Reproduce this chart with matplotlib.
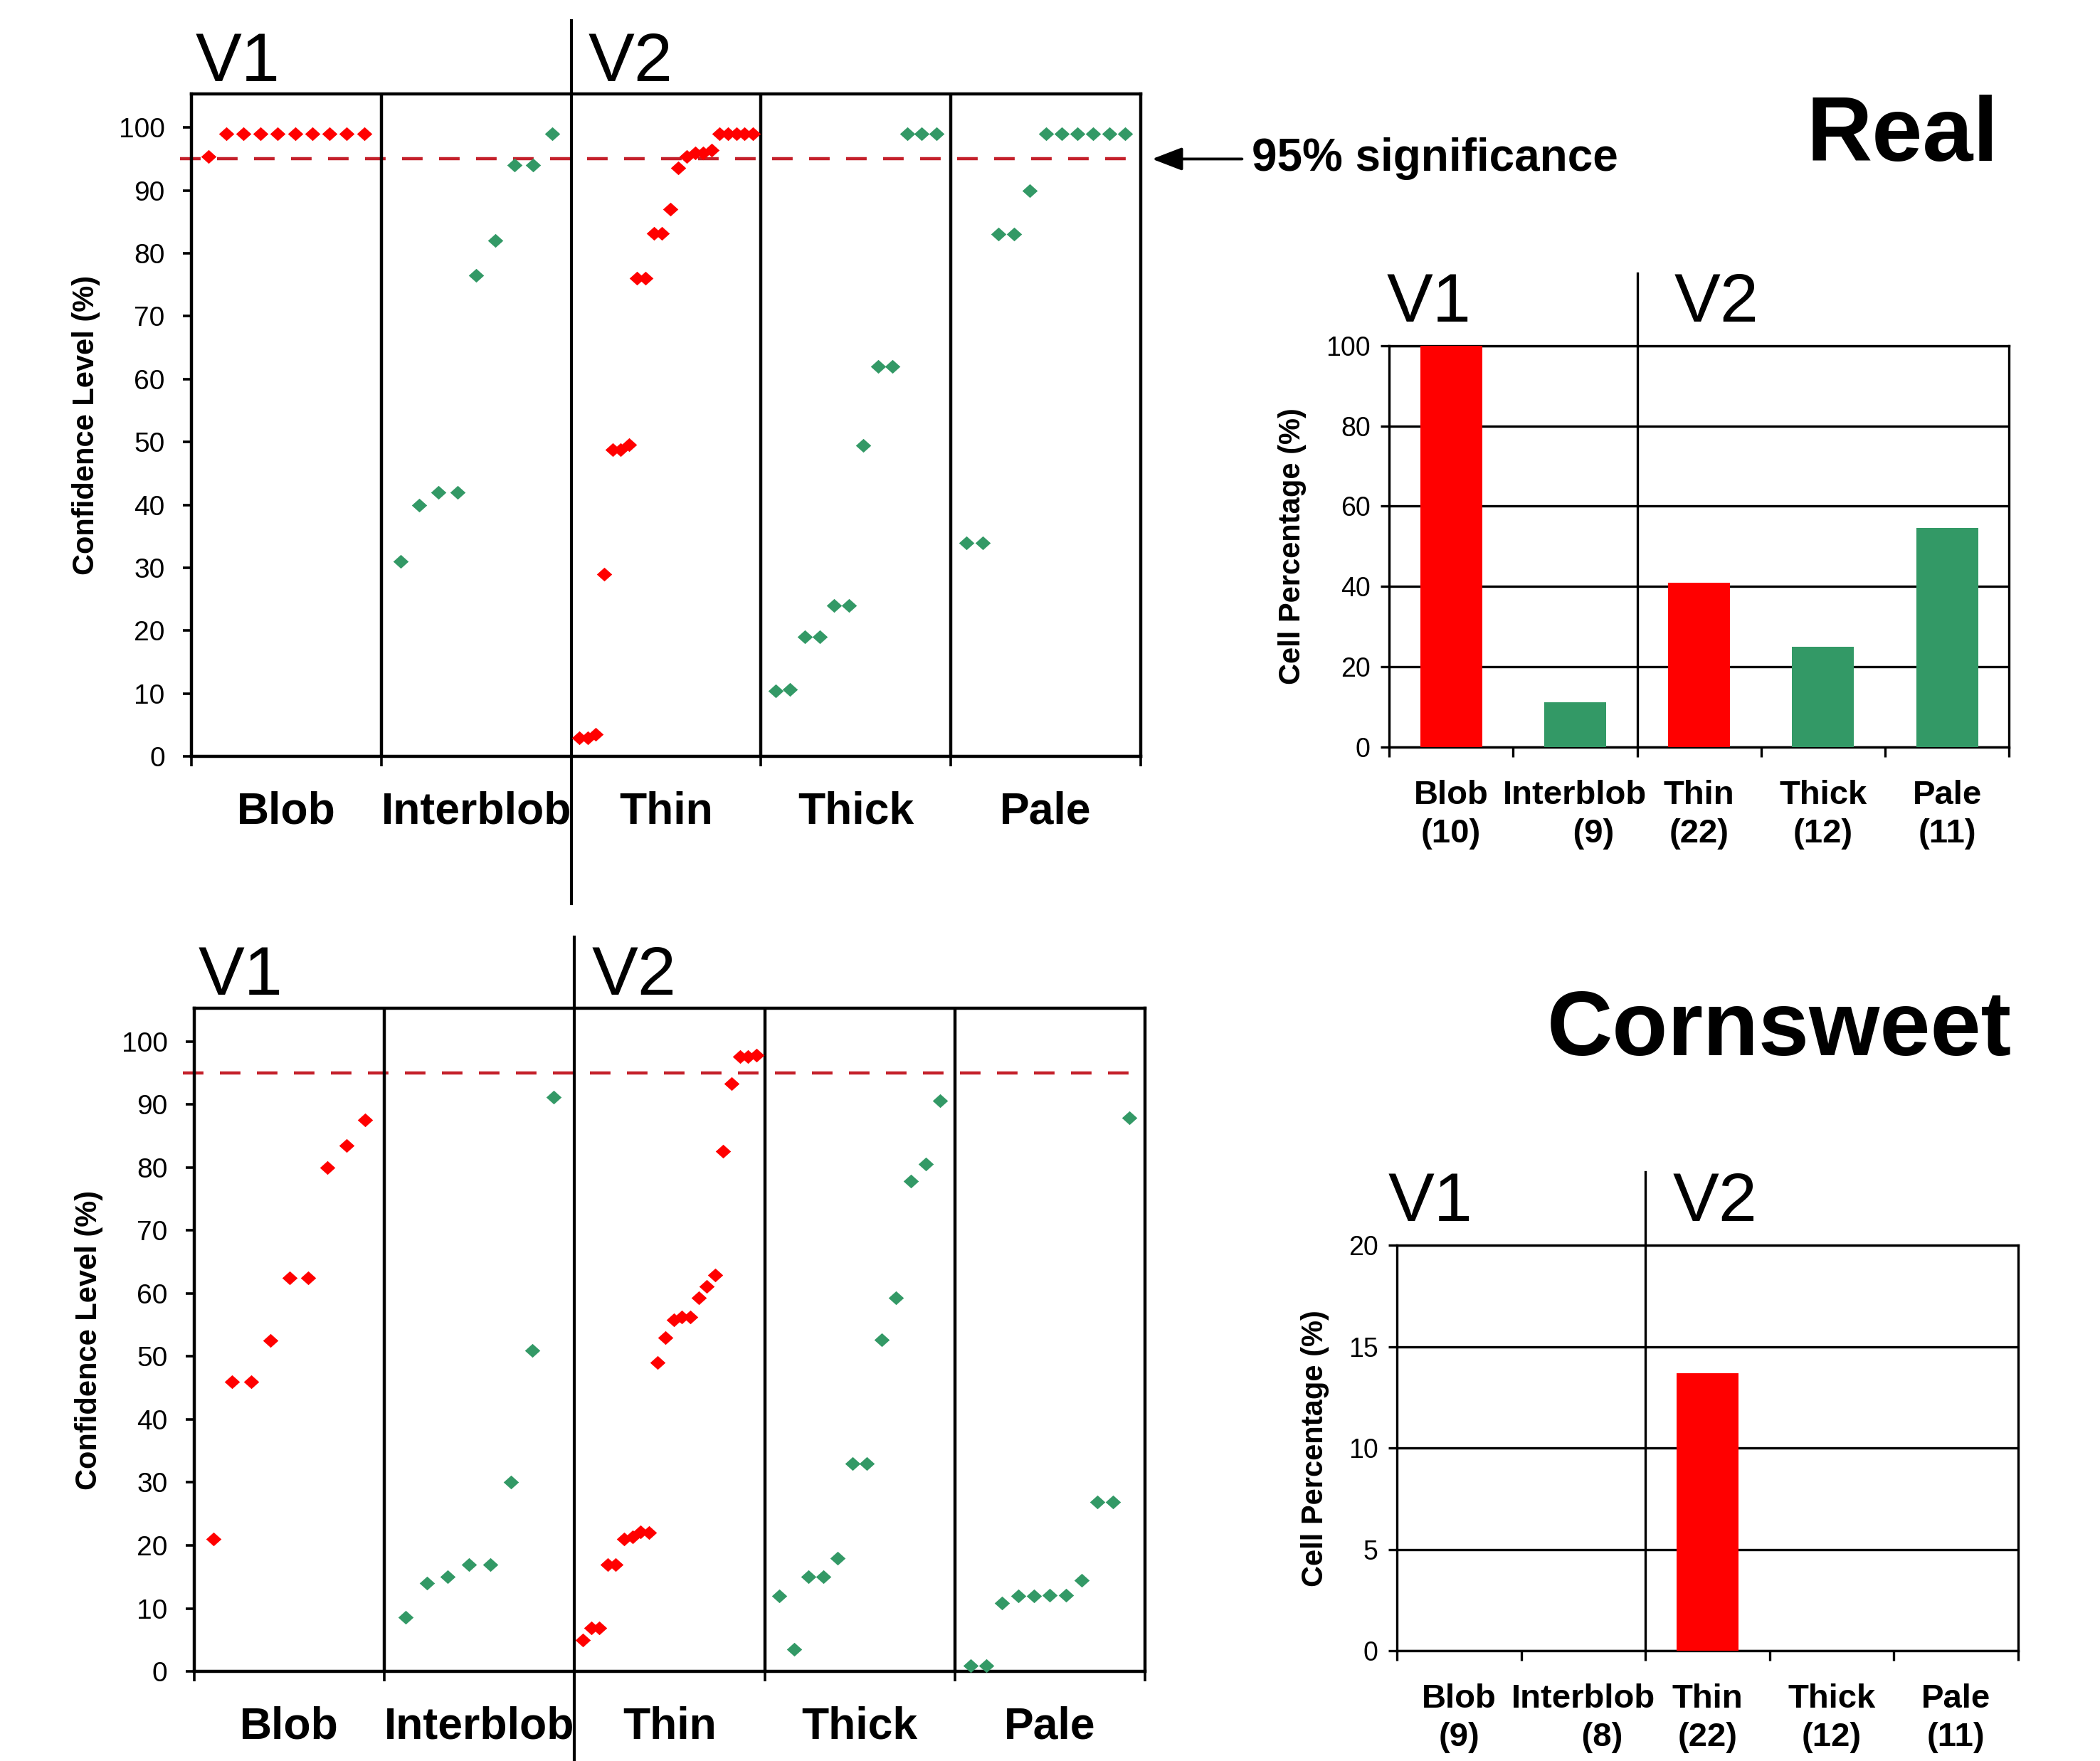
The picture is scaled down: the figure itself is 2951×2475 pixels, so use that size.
import matplotlib
matplotlib.use('Agg')
from matplotlib import pyplot as plt
from matplotlib import transforms

plt.rcParams['font.family'] = ['Liberation Sans', 'DejaVu Sans']

categories = ['Blob', 'Interblob', 'Thin', 'Thick', 'Pale']
cat_colors = ['#ff0000', '#339966', '#ff0000', '#339966', '#339966']
threshold = 95  # 95% significance

# confidence level of each cell, Real stimulus
real_blob = [95.4, 99, 99, 99, 99, 99, 99, 99, 99, 99]
real_interblob = [31, 40, 42, 42, 76.5, 82, 94, 94, 99]
real_thin = [2.9, 2.9, 3.5, 29, 48.8, 48.8, 49.6, 76, 76, 83.2, 83.2, 87, 93.6,
             95.4, 95.9, 96, 96.4, 99, 99, 99, 99, 99]
real_thick = [10.4, 10.6, 19, 19, 24, 24, 49.4, 62, 62, 99, 99, 99]
real_pale = [34, 34, 83, 83, 90, 99, 99, 99, 99, 99, 99]

# confidence level of each cell, Cornsweet stimulus
corn_blob = [21, 46, 46, 52.5, 62.5, 62.5, 80, 83.5, 87.5]
corn_interblob = [8.6, 14, 15, 17, 17, 30, 51, 91.2]
corn_thin = [5, 6.9, 6.9, 17, 17, 21, 21.3, 22.2, 22, 49, 53, 55.8, 56.3, 56.3,
             59.3, 61.1, 62.9, 82.6, 93.3, 97.6, 97.6, 97.8]
corn_thick = [12, 3.5, 15, 15, 18, 33, 33, 52.7, 59.3, 77.8, 80.6, 90.6]
corn_pale = [0.9, 0.9, 10.9, 12, 12, 12.1, 12.1, 14.5, 26.9, 26.9, 87.9]

# percentage of significant cells
real_pct = [100, 11.1, 40.9, 25, 54.6]
real_n = ['(10)', '(9)', '(22)', '(12)', '(11)']
corn_pct = [0, 0, 13.7, 0, 0]
corn_n = ['(9)', '(8)', '(22)', '(12)', '(11)']

diamond = [(-1, 0), (0, 0.9), (1, 0), (0, -0.9), (-1, 0)]
narrow = ['Liberation Sans Narrow', 'Liberation Sans']

fig = plt.figure(figsize=(29.51, 24.75), dpi=100)


def scatter_panel(rect, groups, v2x, div_lo, div_hi):
    ax = fig.add_axes(rect)
    for i, (vals, col) in enumerate(zip(groups, cat_colors)):
        n = len(vals)
        xs = [i + (j + 1) / (n + 1) for j in range(n)]
        ax.plot(xs, vals, ls='none', marker=diamond, ms=15.5, color=col,
                mec='none', clip_on=False, zorder=3)
    ax.axhline(threshold, xmin=-0.012, color='#c4202a', lw=3.2, dashes=(6.5, 5.2),
               clip_on=False, zorder=2)
    ax.set_xlim(0, 5)
    ax.set_ylim(0, 105.3)
    for b in [1, 3, 4]:
        ax.axvline(b, color='k', lw=3.2)
    ax.axvline(2, ymin=div_lo, ymax=div_hi, color='k', lw=3.0, clip_on=False)
    for s in ax.spines.values():
        s.set_linewidth(3.2)
    ax.set_xticks(range(6))
    ax.set_xticklabels([])
    ax.set_xticks([i + 0.5 for i in range(5)], minor=True)
    ax.set_xticklabels(categories, minor=True, fontsize=45, fontweight='bold')
    ax.tick_params(axis='x', which='major', length=10, width=2.6, direction='out')
    ax.tick_params(axis='x', which='minor', length=0, pad=35)
    ax.set_yticks(range(0, 101, 10))
    ax.tick_params(axis='y', length=9, width=2.6, pad=18, labelsize=28)
    ax.set_ylabel('Confidence Level (%)', fontsize=30, fontweight='bold')
    ax.yaxis.set_label_coords(-0.096, 0.5)
    tr = transforms.blended_transform_factory(ax.transData, ax.transAxes)
    ax.text(0.02, 1.02, 'V1', transform=tr, fontsize=70, family=narrow, va='baseline')
    ax.text(v2x, 1.02, 'V2', transform=tr, fontsize=70, family=narrow, va='baseline')
    return ax


def bar_panel(rect, pcts, ns, ymax, ystep, ylab_x, v1x, v2x):
    ax = fig.add_axes(rect)
    centers = [i + 0.5 for i in range(5)]
    ax.bar(centers, pcts, width=0.5, color=cat_colors, zorder=3)
    ax.set_xlim(0, 5)
    ax.set_ylim(0, ymax)
    ax.set_yticks(range(0, ymax + 1, ystep))
    ax.set_axisbelow(True)
    ax.yaxis.grid(True, color='k', lw=2.4)
    ax.axvline(2, ymin=0, ymax=1.18, color='k', lw=2.4, clip_on=False)
    for s in ax.spines.values():
        s.set_linewidth(2.4)
    ax.set_xticks(range(6))
    ax.set_xticklabels([])
    labels = [c + '\n' + n for c, n in zip(categories, ns)]
    labels[1] = 'Interblob\n    ' + ns[1]
    ax.set_xticks(centers, minor=True)
    ax.set_xticklabels(labels, minor=True, fontsize=34, fontweight='bold',
                       linespacing=1.3)
    ax.tick_params(axis='x', which='major', length=10, width=2.4, direction='out')
    ax.tick_params(axis='x', which='minor', length=0, pad=33)
    ax.tick_params(axis='y', length=9, width=2.4, pad=10, labelsize=27)
    ax.set_ylabel('Cell Percentage (%)', fontsize=30, fontweight='bold')
    ax.yaxis.set_label_coords(ylab_x, 0.5)
    tr = transforms.blended_transform_factory(ax.transData, ax.transAxes)
    ax.text(v1x, 1.06, 'V1', transform=tr, fontsize=70, family=narrow, va='baseline')
    ax.text(v2x, 1.06, 'V2', transform=tr, fontsize=70, family=narrow, va='baseline')
    return ax


ax1 = scatter_panel([0.0912, 0.5705, 0.452, 0.376],
                    [real_blob, real_interblob, real_thin, real_thick, real_pale],
                    2.09, -0.222, 1.111)
ax1.annotate('95% significance', xy=(5.06, threshold), xycoords='data',
             xytext=(101, 0), textcoords='offset points', va='center',
             fontsize=46, fontweight='bold', annotation_clip=False,
             arrowprops=dict(arrowstyle='-|>,head_length=1.3,head_width=0.5',
                             mutation_scale=20, color='k', lw=2.8,
                             shrinkA=8, shrinkB=0))

scatter_panel([0.0925, 0.0509, 0.4527, 0.3766],
              [corn_blob, corn_interblob, corn_thin, corn_thick, corn_pale],
              2.09, -0.15, 1.107)

bar_panel([0.6615, 0.5758, 0.2952, 0.2279], real_pct, real_n, 100, 20, -0.133, -0.02, 2.3)
bar_panel([0.6652, 0.0626, 0.2958, 0.2303], corn_pct, corn_n, 20, 5, -0.109, -0.07, 2.22)

fig.text(0.9515, 0.9087, 'Real', ha='right', va='baseline', fontsize=92, fontweight='bold')
fig.text(0.958, 0.4008, 'Cornsweet', ha='right', va='baseline', fontsize=92, fontweight='bold')

fig.savefig('out.png', dpi=100)
